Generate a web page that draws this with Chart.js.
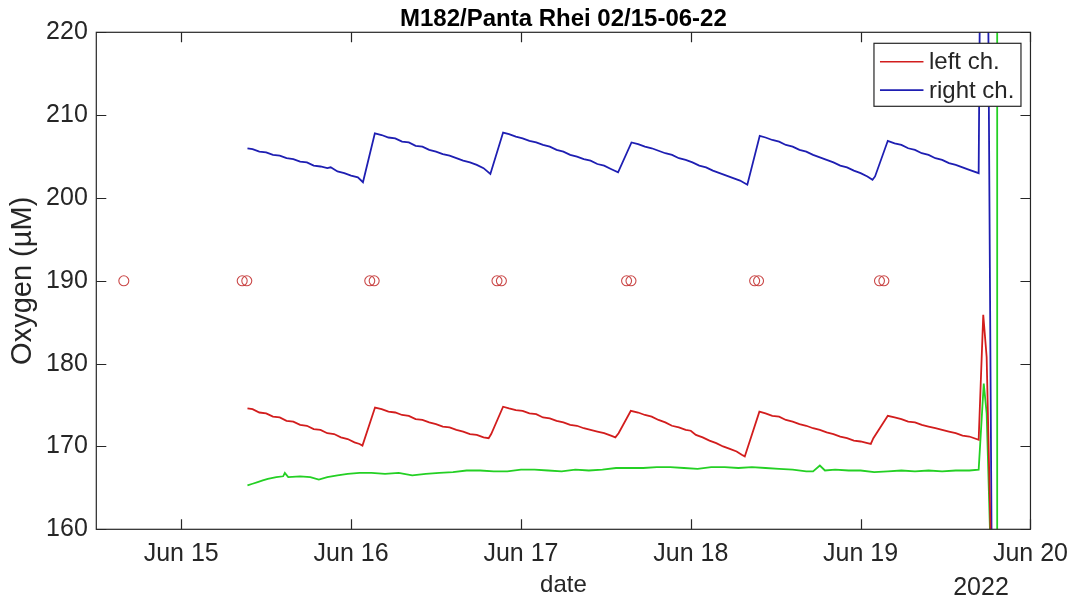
<!DOCTYPE html>
<html>
<head>
<meta charset="utf-8">
<title>M182/Panta Rhei 02/15-06-22</title>
<script src="https://cdn.jsdelivr.net/npm/chart.js@4.4.1/dist/chart.umd.min.js"></script>
<style>
  html, body { margin: 0; padding: 0; background: #ffffff; }
  #wrap { width: 1078px; height: 598px; }
</style>
</head>
<body>
<div id="wrap"><canvas id="oxy" width="1078" height="598"></canvas></div>
<script>
// ---- Data (time in decimal June days, e.g. 15.5 = Jun 15 12:00) ----
const chartTitle = 'M182/Panta Rhei 02/15-06-22';
const yAxisTitle = 'Oxygen (\u00B5M)';
const xAxisTitle = 'date';
const yearLabel = '2022';
const xTickDays = [15, 16, 17, 18, 19, 20];
const yTickValues = [160, 170, 180, 190, 200, 210, 220];

const leftTimes = [
  15.39, 15.42, 15.46, 15.50, 15.54, 15.58, 15.62, 15.66, 15.70, 15.74, 15.78, 15.82, 15.86, 15.90, 15.94, 15.98,
  16.02, 16.05, 16.067, 16.141, 16.18, 16.22, 16.26, 16.30, 16.34, 16.38, 16.42, 16.46, 16.50, 16.54, 16.58, 16.62,
  16.66, 16.70, 16.74, 16.78, 16.81, 16.825, 16.895, 16.93, 16.97, 17.01, 17.05, 17.09, 17.13, 17.17, 17.21, 17.25,
  17.29, 17.33, 17.37, 17.41, 17.45, 17.49, 17.53, 17.556, 17.575, 17.647, 17.69, 17.73, 17.77, 17.81, 17.85, 17.889,
  17.93, 17.97, 18.00, 18.03, 18.07, 18.11, 18.15, 18.19, 18.23, 18.27, 18.30, 18.318, 18.404, 18.44, 18.48, 18.52,
  18.56, 18.60, 18.64, 18.68, 18.72, 18.76, 18.80, 18.84, 18.88, 18.92, 18.96, 19.00, 19.04, 19.06, 19.075, 19.16,
  19.20, 19.24, 19.28, 19.32, 19.36, 19.40, 19.44, 19.48, 19.52, 19.56, 19.60, 19.64, 19.695, 19.722, 19.742, 19.785
];
const leftValues = [
  174.6, 174.5, 174.1, 174.0, 173.6, 173.5, 173.1, 173.0, 172.6, 172.5, 172.1, 172.0, 171.6, 171.5, 171.1, 170.9,
  170.5, 170.3, 170.1, 174.7, 174.5, 174.2, 174.1, 173.8, 173.7, 173.3, 173.2, 172.9, 172.7, 172.4, 172.3, 172.0,
  171.8, 171.5, 171.4, 171.1, 171.0, 171.5, 174.8, 174.6, 174.4, 174.3, 174.0, 173.9, 173.5, 173.4, 173.1, 172.9,
  172.6, 172.5, 172.2, 172.0, 171.8, 171.6, 171.3, 171.1, 171.6, 174.3, 174.1, 173.8, 173.6, 173.2, 172.9, 172.5,
  172.3, 172.0, 171.9, 171.4, 171.1, 170.7, 170.4, 170.0, 169.7, 169.4, 169.0, 168.8, 174.2, 174.0, 173.7, 173.6,
  173.2, 173.0, 172.7, 172.5, 172.2, 172.0, 171.7, 171.5, 171.2, 171.0, 170.7, 170.6, 170.4, 170.3, 171.0, 173.7,
  173.5, 173.3, 173.0, 172.9, 172.6, 172.4, 172.2, 172.0, 171.8, 171.6, 171.3, 171.2, 170.8, 185.9, 180.8, 141.0
];

const rightTimes = [
  15.39, 15.42, 15.46, 15.50, 15.54, 15.58, 15.62, 15.66, 15.70, 15.74, 15.78, 15.82, 15.86, 15.88, 15.92, 15.96,
  16.00, 16.04, 16.07, 16.14, 16.18, 16.22, 16.26, 16.30, 16.34, 16.38, 16.42, 16.46, 16.50, 16.54, 16.58, 16.62,
  16.66, 16.70, 16.74, 16.78, 16.82, 16.895, 16.93, 16.97, 17.01, 17.05, 17.09, 17.13, 17.17, 17.21, 17.25, 17.29,
  17.33, 17.37, 17.41, 17.45, 17.49, 17.53, 17.572, 17.651, 17.69, 17.73, 17.77, 17.81, 17.85, 17.89, 17.93, 17.97,
  18.01, 18.05, 18.09, 18.13, 18.17, 18.21, 18.25, 18.29, 18.333, 18.406, 18.44, 18.48, 18.52, 18.56, 18.60, 18.64,
  18.68, 18.72, 18.76, 18.80, 18.84, 18.88, 18.92, 18.96, 19.00, 19.04, 19.07, 19.085, 19.16, 19.20, 19.24, 19.28,
  19.32, 19.36, 19.40, 19.44, 19.48, 19.52, 19.56, 19.60, 19.64, 19.695, 19.728, 19.79
];
const rightValues = [
  206.0, 205.9, 205.6, 205.5, 205.2, 205.1, 204.8, 204.7, 204.4, 204.3, 203.9, 203.8, 203.6, 203.7, 203.2, 203.0,
  202.7, 202.5, 201.9, 207.8, 207.6, 207.3, 207.2, 206.8, 206.7, 206.3, 206.2, 205.8, 205.6, 205.3, 205.1, 204.8,
  204.5, 204.3, 204.0, 203.6, 202.9, 207.9, 207.7, 207.4, 207.2, 206.9, 206.7, 206.4, 206.2, 205.8, 205.6, 205.2,
  205.0, 204.7, 204.5, 204.1, 203.9, 203.5, 203.1, 206.7, 206.5, 206.2, 206.0, 205.7, 205.4, 205.2, 204.8, 204.6,
  204.3, 203.9, 203.7, 203.3, 203.0, 202.7, 202.4, 202.1, 201.6, 207.5, 207.3, 207.0, 206.8, 206.4, 206.2, 205.8,
  205.6, 205.2, 204.9, 204.6, 204.3, 203.9, 203.7, 203.3, 203.0, 202.6, 202.2, 202.6, 206.9, 206.6, 206.4, 206.0,
  205.8, 205.4, 205.2, 204.8, 204.6, 204.2, 204.0, 203.7, 203.4, 203.0, 299.0, 97.0
];

const thirdTimes = [
  15.39, 15.42, 15.45, 15.48, 15.51, 15.56, 15.60, 15.61, 15.63, 15.70, 15.76, 15.81, 15.86, 15.92, 15.98, 16.05,
  16.12, 16.20, 16.28, 16.36, 16.44, 16.52, 16.60, 16.68, 16.76, 16.84, 16.92, 17.00, 17.08, 17.16, 17.24, 17.32,
  17.40, 17.48, 17.56, 17.64, 17.72, 17.80, 17.88, 17.96, 18.04, 18.12, 18.20, 18.28, 18.36, 18.44, 18.52, 18.60,
  18.68, 18.72, 18.76, 18.79, 18.85, 18.93, 19.00, 19.08, 19.16, 19.24, 19.32, 19.40, 19.48, 19.56, 19.64, 19.695,
  19.725, 19.742, 19.785, 19.803, 19.804
];
const thirdValues = [
  165.3, 165.5, 165.7, 165.9, 166.1, 166.3, 166.4, 166.8, 166.3, 166.4, 166.3, 166.0, 166.3, 166.5, 166.7, 166.8,
  166.8, 166.7, 166.8, 166.5, 166.7, 166.8, 166.9, 167.1, 167.1, 167.0, 167.0, 167.2, 167.2, 167.1, 167.0, 167.2,
  167.1, 167.2, 167.4, 167.4, 167.4, 167.5, 167.5, 167.4, 167.3, 167.5, 167.5, 167.4, 167.5, 167.4, 167.3, 167.2,
  167.0, 167.0, 167.7, 167.1, 167.2, 167.1, 167.1, 166.9, 167.0, 167.1, 167.0, 167.1, 167.0, 167.1, 167.1, 167.2,
  177.6, 174.0, 143.0, 100.0, 300.0
];

const markerTimes = [14.662, 15.359, 15.386, 16.110, 16.136, 16.859, 16.885, 17.622, 17.648, 18.376, 18.399, 19.111, 19.137];
const markerValues = [190, 190, 190, 190, 190, 190, 190, 190, 190, 190, 190, 190, 190];

const legendLabels = ['left ch.', 'right ch.'];

// ---- Styling ----
const FONT = "'Liberation Sans', Arial, Helvetica, sans-serif";
const INK = '#262626';
const RED = '#d21d1d';
const BLUE = '#1e1eb2';
const GREEN = '#24d024';

const toPoints = (xs, ys) => xs.map((x, i) => ({ x: x, y: ys[i] }));

// Boxed axes with inward tick marks, titles and a boxed legend (MATLAB look)
const framePlugin = {
  id: 'frame',
  afterDatasetsDraw(chart) {
    const { ctx, chartArea: a, scales } = chart;
    const xs = scales.x, ys = scales.y;
    ctx.save();
    ctx.strokeStyle = INK;
    ctx.lineWidth = 1.2;
    ctx.strokeRect(a.left, a.top, a.right - a.left, a.bottom - a.top);
    const tl = 10;
    ctx.beginPath();
    xs.ticks.forEach(t => {
      const px = Math.round(xs.getPixelForValue(t.value)) + 0.5;
      ctx.moveTo(px, a.bottom); ctx.lineTo(px, a.bottom - tl);
      ctx.moveTo(px, a.top); ctx.lineTo(px, a.top + tl);
    });
    ys.ticks.forEach(t => {
      const py = Math.round(ys.getPixelForValue(t.value)) + 0.5;
      ctx.moveTo(a.left, py); ctx.lineTo(a.left + tl, py);
      ctx.moveTo(a.right, py); ctx.lineTo(a.right - tl, py);
    });
    ctx.stroke();

    // legend box in the upper right corner of the axes
    const items = chart.data.datasets.filter(d => legendLabels.includes(d.label));
    const bw = 147, bh = 63;
    const bx = a.right - 9.5 - bw, by = a.top + 11;
    ctx.fillStyle = '#ffffff';
    ctx.fillRect(bx, by, bw, bh);
    ctx.lineWidth = 1.2;
    ctx.strokeStyle = INK;
    ctx.strokeRect(bx, by, bw, bh);
    ctx.font = `24px ${FONT}`;
    ctx.textBaseline = 'middle';
    ctx.textAlign = 'left';
    items.forEach((d, i) => {
      const cy = by + 18.5 + i * 28.3;
      ctx.strokeStyle = d.borderColor;
      ctx.lineWidth = 1.6;
      ctx.beginPath();
      ctx.moveTo(bx + 6, cy); ctx.lineTo(bx + 49.5, cy);
      ctx.stroke();
      ctx.fillStyle = INK;
      ctx.fillText(d.label, bx + 55, cy + 1);
    });
    ctx.restore();
  },
  afterDraw(chart) {
    const { ctx, chartArea: a } = chart;
    const cx = (a.left + a.right) / 2;
    ctx.save();
    ctx.fillStyle = '#000000';
    ctx.font = `bold 24px ${FONT}`;
    ctx.textAlign = 'center';
    ctx.textBaseline = 'alphabetic';
    ctx.fillText(chartTitle, cx, 26);

    ctx.fillStyle = INK;
    ctx.font = `24px ${FONT}`;
    ctx.fillText(xAxisTitle, cx, 592);
    ctx.font = `25px ${FONT}`;
    ctx.fillText(yearLabel, 981, 595);

    ctx.font = `29px ${FONT}`;
    ctx.textBaseline = 'middle';
    ctx.translate(23, (a.top + a.bottom) / 2);
    ctx.rotate(-Math.PI / 2);
    ctx.fillText(yAxisTitle, 0, 0);
    ctx.restore();
  }
};

const lineDefaults = { borderWidth: 1.8, pointRadius: 0, pointHoverRadius: 0, tension: 0, fill: false };

new Chart(document.getElementById('oxy').getContext('2d'), {
  type: 'line',
  data: {
    datasets: [
      { ...lineDefaults, label: 'left ch.', data: toPoints(leftTimes, leftValues), borderColor: RED },
      { ...lineDefaults, label: 'right ch.', data: toPoints(rightTimes, rightValues), borderColor: BLUE },
      { ...lineDefaults, label: 'third ch.', data: toPoints(thirdTimes, thirdValues), borderColor: GREEN },
      {
        type: 'scatter', label: 'calibration', data: toPoints(markerTimes, markerValues),
        showLine: false, pointStyle: 'circle', pointRadius: 5, pointHoverRadius: 5,
        borderColor: 'rgba(196, 52, 52, 0.9)', backgroundColor: 'rgba(0,0,0,0)', borderWidth: 1.1
      }
    ]
  },
  options: {
    responsive: false,
    animation: false,
    devicePixelRatio: 1,
    layout: { padding: { top: 32.3, right: 45.3, left: 0, bottom: 0 } },
    plugins: { legend: { display: false }, tooltip: { enabled: false }, title: { display: false } },
    scales: {
      x: {
        type: 'linear', min: 14.5, max: 20,
        grid: { display: false, drawTicks: false }, border: { display: false },
        afterBuildTicks: s => { s.ticks = xTickDays.map(v => ({ value: v })); },
        afterFit: s => { s.height = 68.7; },
        ticks: {
          callback: v => 'Jun ' + v, autoSkip: false, maxRotation: 0,
          font: { family: FONT, size: 25 }, color: INK, padding: 10
        }
      },
      y: {
        type: 'linear', min: 160, max: 220,
        grid: { display: false, drawTicks: false }, border: { display: false },
        afterBuildTicks: s => { s.ticks = yTickValues.map(v => ({ value: v })); },
        afterFit: s => { s.width = 96.3; },
        ticks: { font: { family: FONT, size: 25 }, color: INK, padding: 8.5 }
      }
    }
  },
  plugins: [framePlugin]
});
</script>
</body>
</html>
